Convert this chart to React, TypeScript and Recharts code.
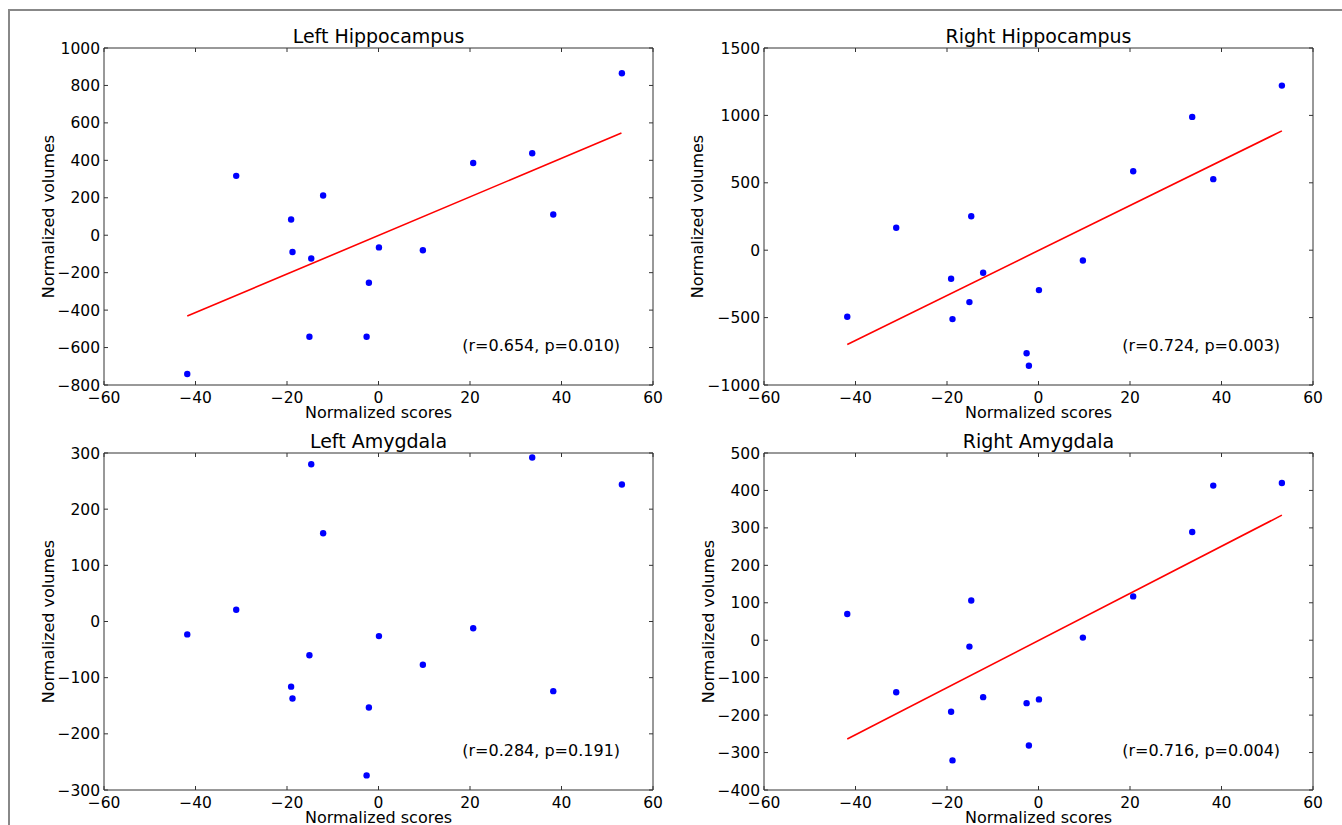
import { ScatterChart, Scatter, XAxis, YAxis, ReferenceLine } from 'recharts'

// normalized scores, shared by all four panels (one per subject)
const scores = [-41.8, -31.1, -19.1, -18.8, -14.7, -15.1, -12.1, -2.6, -2.1, 0.1, 9.7, 20.7, 33.6, 38.2, 53.2]

const leftHippocampus = [-741, 317, 84, -90, -124, -542, 212, -542, -254, -65, -80, 386, 438, 111, 865]
const rightHippocampus = [-494, 166, -212, -511, 252, -385, -167, -765, -857, -296, -76, 586, 989, 527, 1221]
const leftAmygdala = [-23, 21, -116, -137, 280, -60, 157, -274, -153, -26, -77, -12, 292, -124, 244]
const rightAmygdala = [70, -139, -191, -321, 106, -17, -152, -168, -281, -158, 7, 117, 289, 413, 420]

// regression line end points [score, volume]
const fitLeftHippocampus = [[-41.8, -432], [53.1, 546]]
const fitRightHippocampus = [[-41.8, -699], [53.2, 885]]
const fitRightAmygdala = [[-41.8, -264], [53.2, 334]]

const xTicks = [-60, -40, -20, 0, 20, 40, 60]
const ticksLeftHippocampus = [-800, -600, -400, -200, 0, 200, 400, 600, 800, 1000]
const ticksRightHippocampus = [-1000, -500, 0, 500, 1000, 1500]
const ticksLeftAmygdala = [-300, -200, -100, 0, 100, 200, 300]
const ticksRightAmygdala = [-400, -300, -200, -100, 0, 100, 200, 300, 400, 500]

const FONT = '"DejaVu Sans", sans-serif'
const PLOT_W = 549
const PLOT_H = 337
const CHART_W = 671
const AXIS = '#333'

const fmt = (v: number) => (v < 0 ? '\u2212' + Math.abs(v) : String(v))

interface PanelProps {
  title: string
  stats: string
  volumes: number[]
  yTicks: number[]
  fit?: number[][]
  left: number
  top: number
  plotLeft: number
  plotTop: number
  yLabelGap: number
}

function Panel({ title, stats, volumes, yTicks, fit, left, top, plotLeft, plotTop, yLabelGap }: PanelProps) {
  const data = scores.map((x, i) => ({ x, y: volumes[i] }))
  const chartH = plotTop + PLOT_H + 42
  const yDomain = [yTicks[0], yTicks[yTicks.length - 1]]
  const tickStyle = { fontSize: 15.5, fontFamily: FONT, fill: '#000' }

  // title, stats note and axis titles, placed from the bottom axis box
  const texts = (props: any) => {
    const x = props.viewBox.x
    const y = props.viewBox.y - PLOT_H
    return (
      <g fontFamily={FONT} fill="#000">
        <text x={x + PLOT_W / 2} y={y - 5} fontSize={19} textAnchor="middle">
          {title}
        </text>
        <text x={x + PLOT_W * 0.94} y={y + PLOT_H * 0.9} fontSize={16} textAnchor="end">
          {stats}
        </text>
        <text x={x + PLOT_W / 2} y={y + PLOT_H + 33} fontSize={16} textAnchor="middle">
          Normalized scores
        </text>
        <text
          x={x - yLabelGap}
          y={y + PLOT_H / 2}
          fontSize={16}
          textAnchor="middle"
          transform={`rotate(-90 ${x - yLabelGap} ${y + PLOT_H / 2})`}
        >
          Normalized volumes
        </text>
      </g>
    )
  }

  return (
    <div style={{ position: 'absolute', left, top }}>
      <ScatterChart
        width={CHART_W}
        height={chartH}
        margin={{ top: plotTop - 1, right: CHART_W - plotLeft - PLOT_W - 1, bottom: 0, left: 0 }}
      >
        <XAxis
          dataKey="x"
          type="number"
          domain={[-60, 60]}
          ticks={xTicks}
          interval={0}
          allowDataOverflow
          height={chartH - plotTop - PLOT_H}
          tickFormatter={fmt}
          tickSize={-4}
          tickMargin={11}
          tick={tickStyle}
          stroke={AXIS}
          label={{ content: texts }}
        />
        <XAxis
          xAxisId="top"
          dataKey="x"
          orientation="top"
          type="number"
          domain={[-60, 60]}
          ticks={xTicks}
          interval={0}
          allowDataOverflow
          height={1}
          tickSize={-4}
          tick={() => <g />}
          stroke={AXIS}
        />
        <YAxis
          dataKey="y"
          type="number"
          domain={yDomain}
          ticks={yTicks}
          interval={0}
          allowDataOverflow
          width={plotLeft}
          tickFormatter={fmt}
          tickSize={-4}
          tickMargin={8}
          tick={tickStyle}
          stroke={AXIS}
        />
        <YAxis
          yAxisId="right"
          dataKey="y"
          orientation="right"
          type="number"
          domain={yDomain}
          ticks={yTicks}
          interval={0}
          allowDataOverflow
          width={1}
          tickSize={-4}
          tick={() => <g />}
          stroke={AXIS}
        />
        {fit && (
          <ReferenceLine
            segment={[
              { x: fit[0][0], y: fit[0][1] },
              { x: fit[1][0], y: fit[1][1] },
            ]}
            stroke="#ff0000"
            strokeWidth={1.6}
          />
        )}
        <Scatter
          xAxisId="top"
          yAxisId="right"
          data={data}
          isAnimationActive={false}
          shape={() => <g />}
        />
        <Scatter
          data={data}
          isAnimationActive={false}
          shape={(p: any) => <circle cx={p.cx} cy={p.cy} r={3.2} fill="#0000ff" />}
        />
      </ScatterChart>
    </div>
  )
}

export default function App() {
  return (
    <div style={{ position: 'absolute', left: 0, top: 0, width: 1342, height: 825, background: '#fff', overflow: 'hidden' }}>
      <div
        style={{
          position: 'absolute',
          left: 8,
          top: 8.5,
          width: 1340,
          height: 820,
          borderTop: '2px solid #888',
          borderLeft: '2px solid #888',
        }}
      />
      <Panel
        title="Left Hippocampus"
        stats="(r=0.654, p=0.010)"
        volumes={leftHippocampus}
        yTicks={ticksLeftHippocampus}
        fit={fitLeftHippocampus}
        left={0}
        top={0}
        plotLeft={104}
        plotTop={48}
        yLabelGap={50}
      />
      <Panel
        title="Right Hippocampus"
        stats="(r=0.724, p=0.003)"
        volumes={rightHippocampus}
        yTicks={ticksRightHippocampus}
        fit={fitRightHippocampus}
        left={671}
        top={0}
        plotLeft={93}
        plotTop={48}
        yLabelGap={61}
      />
      <Panel
        title="Left Amygdala"
        stats="(r=0.284, p=0.191)"
        volumes={leftAmygdala}
        yTicks={ticksLeftAmygdala}
        left={0}
        top={420}
        plotLeft={104}
        plotTop={33}
        yLabelGap={50}
      />
      <Panel
        title="Right Amygdala"
        stats="(r=0.716, p=0.004)"
        volumes={rightAmygdala}
        yTicks={ticksRightAmygdala}
        fit={fitRightAmygdala}
        left={671}
        top={420}
        plotLeft={93}
        plotTop={33}
        yLabelGap={50}
      />
    </div>
  )
}
